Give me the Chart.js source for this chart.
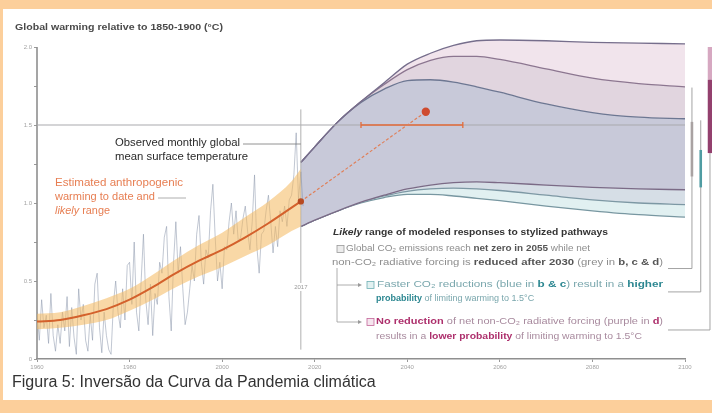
<!DOCTYPE html>
<html><head><meta charset="utf-8">
<script src="https://cdn.jsdelivr.net/npm/chart.js@4/dist/chart.umd.min.js"></script>
<style>
html,body{margin:0;padding:0;background:#fff;}
#frame{position:relative;width:712px;height:413px;background:#fccf9b;overflow:hidden;}
#white{position:absolute;left:3px;top:9px;width:709px;height:391px;background:#fff;}
canvas{position:absolute;left:0;top:0;}
</style></head><body>
<div id="frame"><div id="white"></div><canvas id="c" width="712" height="413"></canvas></div>
<script>
// ---------- DATA ----------
const xTicks = [1960, 1980, 2000, 2020, 2040, 2060, 2080, 2100];
const yTicks = [0, 0.25, 0.5, 0.75, 1.0, 1.25, 1.5, 1.75, 2.0];
const yTickLabels = ['0', '', '0.5', '', '1.0', '', '1.5', '', '2.0'];

// observed monthly GMST (sampled twice a year), starting 1960.0, step 0.5 yr
const obsStart = 1960, obsStep = 0.5;
const observed = [
 0.30,0.12, 0.38,0.20, 0.28,0.10, 0.42,0.15, 0.05,0.22, 0.10,0.30, 0.18,0.40, 0.08,0.33, 0.14,0.03, 0.45,0.25,
 0.35,0.12, 0.05,0.28, 0.12,0.48, 0.55,0.20, 0.04,0.30, 0.15,0.06, 0.03,0.35, 0.50,0.30, 0.20,0.45, 0.25,0.60,
 0.62,0.35, 0.75,0.30, 0.18,0.50, 0.80,0.38, 0.22,0.48, 0.15,0.42, 0.35,0.62, 0.55,0.78, 0.85,0.40, 0.18,0.62,
 0.88,0.55, 0.72,0.45, 0.22,0.30, 0.45,0.60, 0.50,0.80, 0.92,0.62, 0.48,0.70, 0.65,0.95, 1.12,0.78, 0.50,0.62,
 0.45,0.72, 0.70,0.88, 1.00,0.80, 0.95,0.75, 0.78,0.90, 0.98,0.82, 0.70,0.88, 1.18,0.72, 0.55,0.80, 0.82,0.95,
 1.05,0.88, 0.68,0.85, 0.72,0.95, 0.88,0.98, 0.85,1.02, 1.05,1.18, 1.45,1.02, 1.20,0.98
];

// estimated anthropogenic warming and likely range
const trendYears = [1960, 1965, 1970, 1975, 1980, 1985, 1990, 1995, 2000, 2005, 2010, 2015, 2017];
const trendMid   = [0.24, 0.25, 0.28, 0.32, 0.38, 0.46, 0.55, 0.63, 0.70, 0.78, 0.87, 0.97, 1.01];
const trendHigh  = [0.29, 0.30, 0.34, 0.39, 0.45, 0.54, 0.64, 0.73, 0.81, 0.91, 1.01, 1.14, 1.22];
const trendLow   = [0.19, 0.20, 0.22, 0.25, 0.31, 0.38, 0.46, 0.53, 0.59, 0.66, 0.73, 0.82, 0.85];

// modeled pathways (likely ranges)
const projYears  = [2017, 2020, 2025, 2030, 2035, 2040, 2045, 2050, 2055, 2060, 2070, 2080, 2090, 2100];
const purpleHigh = [1.26, 1.36, 1.52, 1.65, 1.77, 1.89, 1.96, 2.01, 2.04, 2.045, 2.04, 2.03, 2.025, 2.02];
const greyHigh   = [1.26, 1.36, 1.52, 1.65, 1.76, 1.855, 1.915, 1.94, 1.94, 1.92, 1.86, 1.80, 1.765, 1.745];
const blueHigh   = [1.26, 1.36, 1.52, 1.645, 1.73, 1.785, 1.79, 1.775, 1.745, 1.71, 1.635, 1.58, 1.55, 1.54];
const purpleLow  = [0.85, 0.89, 0.95, 1.005, 1.05, 1.09, 1.115, 1.13, 1.135, 1.13, 1.115, 1.10, 1.09, 1.085];
const greyLow    = [0.85, 0.89, 0.95, 1.005, 1.045, 1.075, 1.09, 1.095, 1.09, 1.08, 1.05, 1.02, 1.00, 0.99];
const blueLow    = [0.85, 0.89, 0.95, 1.00, 1.035, 1.055, 1.055, 1.045, 1.03, 1.015, 0.98, 0.95, 0.925, 0.91];

// current-rate extrapolation and 1.5°C crossing range
const rateYears  = [2017, 2044];
const rateValues = [1.01, 1.585];
const crossYears = [2030, 2052];
const crossLevel = 1.5;
const markYear = 2017;
const markSpan = [0.06, 1.6];

// right-hand range bars (panel b, cut off): [x-position year, thin top, thin bottom, thick top, thick bottom]
const barGrey   = [2101.5, 1.74, 0.58, 1.52, 1.17];
const barTeal   = [2103.4, 1.53, 0.43, 1.34, 1.10];
const barPurple = [2105.4, 2.00, 0.186, 1.79, 1.32];

// ---------- BUILD ----------
const FONT = '"Liberation Sans", Arial, sans-serif';
const pts = (xs, ys) => xs.map((v, i) => ({x: v, y: ys[i]}));
const obsPts = observed.map((v, i) => ({x: obsStart + i * obsStep, y: v}));

const base = {pointRadius: 0, pointHoverRadius: 0, fill: false, borderWidth: 1.3};
const proj = (data, color, fill, bg) => Object.assign({}, base, {
  data: pts(projYears, data), borderColor: color, borderWidth: 1.3,
  cubicInterpolationMode: 'monotone', fill: fill, backgroundColor: bg
});

const datasets = [
  Object.assign({}, base, {data: [{x: rateYears[1], y: rateValues[1]}], showLine: false, pointRadius: 3.5,
    pointBackgroundColor: '#cf4b2f', pointBorderColor: '#cf4b2f'}),
  Object.assign({}, base, {data: [{x: trendYears[trendYears.length-1], y: trendMid[trendMid.length-1]}], showLine: false,
    pointRadius: 2.5, pointBackgroundColor: '#b84a22', pointBorderColor: '#b84a22'}),
  Object.assign({}, base, {data: pts(rateYears, rateValues), borderColor: '#e07f58', borderWidth: 1.2, borderDash: [3, 2]}),
  Object.assign({}, base, {data: crossYears.map(v => ({x: v, y: crossLevel})), borderColor: '#e36b3a', borderWidth: 1.6,
    pointRadius: 3, pointStyle: 'line', rotation: 90, pointBorderColor: '#e36b3a', pointBorderWidth: 1.3}),
  Object.assign({}, base, {data: pts(trendYears, trendMid), borderColor: '#d4612c', borderWidth: 2, cubicInterpolationMode: 'monotone'}),
  Object.assign({}, base, {data: pts(trendYears, trendHigh), borderWidth: 0, borderColor: 'rgba(0,0,0,0)', cubicInterpolationMode: 'monotone'}),
  Object.assign({}, base, {data: pts(trendYears, trendLow), borderWidth: 0, borderColor: 'rgba(0,0,0,0)', cubicInterpolationMode: 'monotone',
    fill: '-1', backgroundColor: 'rgba(244,184,92,0.55)'}),
  Object.assign({}, base, {data: obsPts, borderColor: 'rgba(140,150,172,0.6)', borderWidth: 0.9, tension: 0}),
  Object.assign({}, base, {data: markSpan.map(v => ({x: markYear, y: v})), borderColor: '#b0b0b0', borderWidth: 1}),
  Object.assign({}, base, {data: [{x: xTicks[0], y: crossLevel}, {x: xTicks[xTicks.length-1], y: crossLevel}], borderColor: '#a9a9ad', borderWidth: 1}),
  proj(purpleHigh, '#766e8c', false),
  proj(greyHigh,   '#8c7690', '-1', '#f1e4ec'),
  proj(blueHigh,   '#6d7792', '-1', '#e1d5df'),
  proj(purpleLow,  '#7b6a86', '-1', '#c8c9d9'),
  proj(greyLow,    '#7d98a4', '-1', '#d6dee6'),
  proj(blueLow,    '#7897a1', '-1', '#e1f0f1')
];

function rich(ctx, x, y, segs, size, targetW) {
  const fs = s => (s[1] || '') + ' ' + size + 'px ' + FONT;
  const w = segs.map(s => { ctx.font = fs(s); return ctx.measureText(s[0]).width; });
  const total = w.reduce((a, b) => a + b, 0);
  const k = targetW ? targetW / total : 1;
  ctx.save(); ctx.translate(x, y); ctx.scale(k, 1);
  ctx.textBaseline = 'middle'; ctx.textAlign = 'left';
  let cx = 0;
  segs.forEach((s, i) => { ctx.font = fs(s); ctx.fillStyle = s[2]; ctx.fillText(s[0], cx, 0); cx += w[i]; });
  ctx.restore();
}
function line(ctx, pts, color, w) {
  ctx.save(); ctx.strokeStyle = color; ctx.lineWidth = w; ctx.beginPath();
  pts.forEach((p, i) => i ? ctx.lineTo(p[0], p[1]) : ctx.moveTo(p[0], p[1]));
  ctx.stroke(); ctx.restore();
}
function arrow(ctx, x1, x2, y, color) {
  line(ctx, [[x1, y], [x2, y]], color, 0.8);
  ctx.save(); ctx.fillStyle = color; ctx.beginPath();
  ctx.moveTo(x2 + 3, y); ctx.lineTo(x2 - 1, y - 2); ctx.lineTo(x2 - 1, y + 2); ctx.closePath(); ctx.fill(); ctx.restore();
}
function box(ctx, x, y, stroke, fill) {
  ctx.save(); ctx.fillStyle = fill; ctx.strokeStyle = stroke; ctx.lineWidth = 0.8;
  ctx.fillRect(x, y - 3.5, 7, 7); ctx.strokeRect(x, y - 3.5, 7, 7); ctx.restore();
}

const deco = {
  id: 'deco',
  beforeDatasetsDraw(chart) {
    const {ctx, scales: {x, y}} = chart;
    const px = x.getPixelForValue(xTicks[0]);
    line(ctx, [[px, y.getPixelForValue(0)], [px, y.getPixelForValue(yTicks[yTicks.length-1])]], '#8f8f8f', 1.6);
  },
  afterDraw(chart) {
    const {ctx, scales: {x, y}} = chart;
    // right-hand range bars and brackets
    const bars = [[barGrey, '#a9a2a2', null], [barTeal, '#4f9ca2', null], [barPurple, '#93406e', '#d6a8c1']];
    bars.forEach(([b, col, light], i) => {
      const bx = x.getPixelForValue(b[0]);
      const yb = y.getPixelForValue(b[2]);
      line(ctx, [[bx, y.getPixelForValue(b[1])], [bx, yb], [668, yb]], '#9a9a9a', 0.9);
      if (light) line(ctx, [[bx, y.getPixelForValue(b[1])], [bx, y.getPixelForValue(b[3])]], light, 4.5);
      line(ctx, [[bx, y.getPixelForValue(b[3])], [bx, y.getPixelForValue(b[4])]], col, light ? 4.5 : 2.6);
    });
    // 2017 label
    const mx = x.getPixelForValue(markYear);
    ctx.save(); ctx.fillStyle = '#fff'; ctx.fillRect(mx - 8, 283, 16, 8);
    ctx.font = '6px ' + FONT; ctx.fillStyle = '#999'; ctx.textAlign = 'center'; ctx.textBaseline = 'middle';
    ctx.fillText(String(markYear), mx, 287); ctx.restore();
    // title
    rich(ctx, 15, 28, [['Global warming relative to 1850-1900 (°C)', 'bold', '#4a4a4a']], 9, 208);
    // observed label
    rich(ctx, 115, 143, [['Observed monthly global', '', '#2a2a2a']], 10, 125);
    rich(ctx, 115, 157, [['mean surface temperature', '', '#2a2a2a']], 10, 133);
    line(ctx, [[243, 144], [mx, 144]], '#777', 0.8);
    // anthropogenic label
    rich(ctx, 55, 183, [['Estimated anthropogenic', '', '#e77e52']], 10, 128);
    rich(ctx, 55, 197, [['warming to date and', '', '#e77e52']], 10, 100);
    rich(ctx, 55, 211, [['likely', 'italic', '#e77e52'], [' range', '', '#e77e52']], 10, 55);
    line(ctx, [[158, 198], [186, 198]], '#999', 0.8);
    // pathway box
    const g = '#8d8d8d', gd = '#555', t = '#7aa7ad', td = '#2c8791', p = '#a88a9e', pd = '#ad2f6c';
    rich(ctx, 333, 233, [['Likely', 'italic bold', '#333'], [' range of modeled responses to stylized pathways', 'bold', '#333']], 9, 275);
    box(ctx, 337, 249, '#9a9a9a', '#ececec');
    rich(ctx, 346, 249, [['Global CO₂ emissions reach ', '', g], ['net zero in 2055', 'bold', gd], [' while net', '', g]], 9, 244);
    rich(ctx, 332, 263, [['non-CO₂ radiative forcing is ', '', g], ['reduced after 2030', 'bold', gd], [' (grey in ', '', g], ['b, c & d', 'bold', gd], [')', '', g]], 9, 331);
    line(ctx, [[337, 268], [337, 322]], '#9a9a9a', 0.8);
    arrow(ctx, 337, 359, 285, '#9a9a9a');
    arrow(ctx, 337, 359, 322, '#9a9a9a');
    box(ctx, 367, 285, '#6fb0b5', '#e2f1f1');
    rich(ctx, 377, 285, [['Faster CO₂ reductions (blue in ', '', t], ['b & c', 'bold', td], [') result in a ', '', t], ['higher', 'bold', td]], 9, 286);
    rich(ctx, 376, 299, [['probability', 'bold', td], [' of limiting warming to 1.5°C', '', t]], 9);
    box(ctx, 367, 322, '#c4679a', '#f5e5ee');
    rich(ctx, 376, 322, [['No reduction', 'bold', pd], [' of net non-CO₂ radiative forcing (purple in ', '', p], ['d', 'bold', pd], [')', '', p]], 9, 287);
    rich(ctx, 376, 337, [['results in a ', '', p], ['lower probability', 'bold', pd], [' of limiting warming to 1.5°C', '', p]], 9, 266);
    // caption
    ctx.save(); ctx.font = '16px ' + FONT; ctx.fillStyle = '#333'; ctx.textBaseline = 'alphabetic';
    ctx.fillText('Figura 5: Inversão da Curva da Pandemia climática', 12, 387); ctx.restore();
  }
};

new Chart(document.getElementById('c'), {
  type: 'line',
  data: {datasets},
  options: {
    responsive: false, animation: false, events: [],
    layout: {padding: {top: 31.4, right: 27, bottom: 0, left: 0}},
    plugins: {legend: {display: false}, tooltip: {enabled: false}, title: {display: false}},
    scales: {
      x: {
        type: 'linear', min: xTicks[0], max: xTicks[xTicks.length-1],
        afterBuildTicks: s => { s.ticks = xTicks.map(v => ({value: v})); },
        afterFit: s => { s.height = 54; },
        ticks: {color: '#a3a3a3', font: {size: 6, family: FONT}, padding: 2, maxRotation: 0, autoSkip: false, callback: v => String(v)},
        grid: {drawOnChartArea: false, drawTicks: true, tickLength: 3, color: '#999'},
        border: {display: true, color: '#8f8f8f', width: 1.5}
      },
      y: {
        type: 'linear', min: 0, max: 2.1,
        afterBuildTicks: s => { s.ticks = yTicks.map(v => ({value: v})); },
        afterFit: s => { s.width = 37; },
        ticks: {color: '#a3a3a3', font: {size: 6, family: FONT}, padding: 2,
          callback: (v, i) => yTickLabels[yTicks.indexOf(v)] ?? ''},
        grid: {drawOnChartArea: false, drawTicks: true, tickLength: 3, color: '#999'},
        border: {display: false}
      }
    }
  },
  plugins: [deco]
});
</script>
</body></html>
